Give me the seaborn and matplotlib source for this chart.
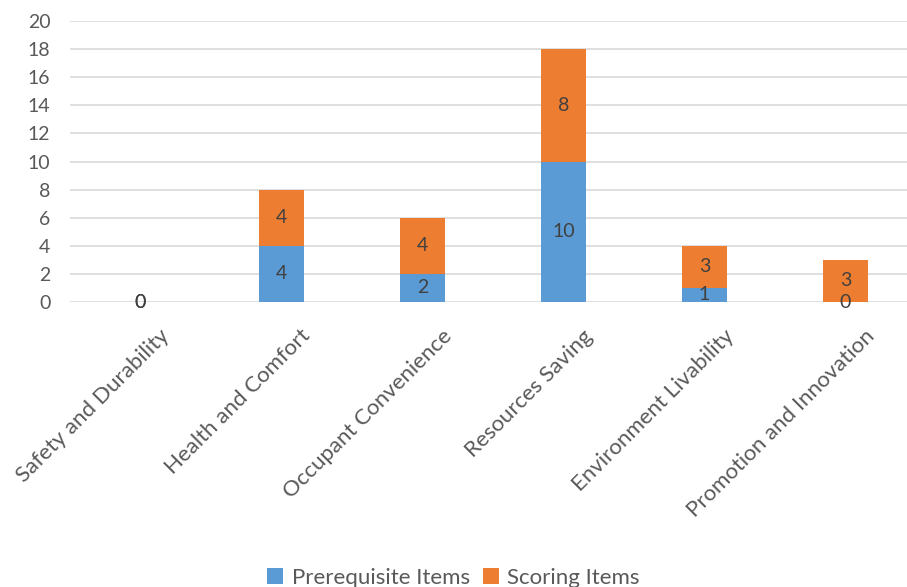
import matplotlib
matplotlib.use("Agg")
import matplotlib.pyplot as plt
import matplotlib.transforms as mtransforms
import seaborn as sns
import pandas as pd

# chart data
categories = ["Safety and Durability", "Health and Comfort", "Occupant Convenience",
              "Resources Saving", "Environment Livability", "Promotion and Innovation"]
prerequisite = [0, 4, 2, 10, 1, 0]
scoring = [0, 4, 4, 8, 3, 3]

df = pd.DataFrame({"category": categories, "prereq": prerequisite, "scoring": scoring})

sns.set_style("white")
plt.rcParams["font.family"] = ["Lato", "DejaVu Sans"]
text_col = "#595959"

fig = plt.figure(figsize=(9.07, 5.87), dpi=100)
ax = fig.add_axes([0.077, 0.4855, 0.933, 0.4787])

sns.barplot(data=df, x="category", y="prereq", color="#5B9BD5", saturation=1,
            width=0.32, linewidth=0, label="Prerequisite Items", ax=ax)
sns.barplot(data=df, x="category", y="scoring", color="#ED7D31", saturation=1,
            width=0.32, linewidth=0, bottom=df["prereq"], label="Scoring Items", ax=ax)

for cont, vals in zip(ax.containers, [prerequisite, scoring]):
    ax.bar_label(cont, labels=[str(v) for v in vals], label_type="center",
                 fontsize=14, color="#404040")

ax.set_ylim(0, 20)
ax.set_xlim(-0.5, 5.5)
ax.set_yticks(range(0, 21, 2))
ax.yaxis.grid(True, color="#D9D9D9", linewidth=1.2)
ax.set_axisbelow(True)
for s in ax.spines.values():
    s.set_visible(False)
ax.set_xlabel("")
ax.set_ylabel("")
ax.tick_params(axis="y", length=0, pad=14, labelsize=14, labelcolor=text_col)
ax.tick_params(axis="x", length=0, pad=0, labelsize=16, labelcolor=text_col)

# shift rotated category labels like the Excel layout
offset = mtransforms.ScaledTranslation(0.26, -0.31, fig.dpi_scale_trans)
for lbl in ax.get_xticklabels():
    lbl.set_rotation(45)
    lbl.set_ha("right")
    lbl.set_va("center")
    lbl.set_rotation_mode("anchor")
    lbl.set_transform(lbl.get_transform() + offset)

handles, labels = ax.get_legend_handles_labels()
if ax.get_legend() is not None:
    ax.get_legend().remove()
fig.legend(handles, labels, loc="lower center", bbox_to_anchor=(0.5, -0.035), ncol=2,
           frameon=False, fontsize=16, handlelength=0.7, handleheight=0.7,
           handletextpad=0.4, columnspacing=0.6, labelcolor=text_col)

fig.savefig("out.png", dpi=100)
